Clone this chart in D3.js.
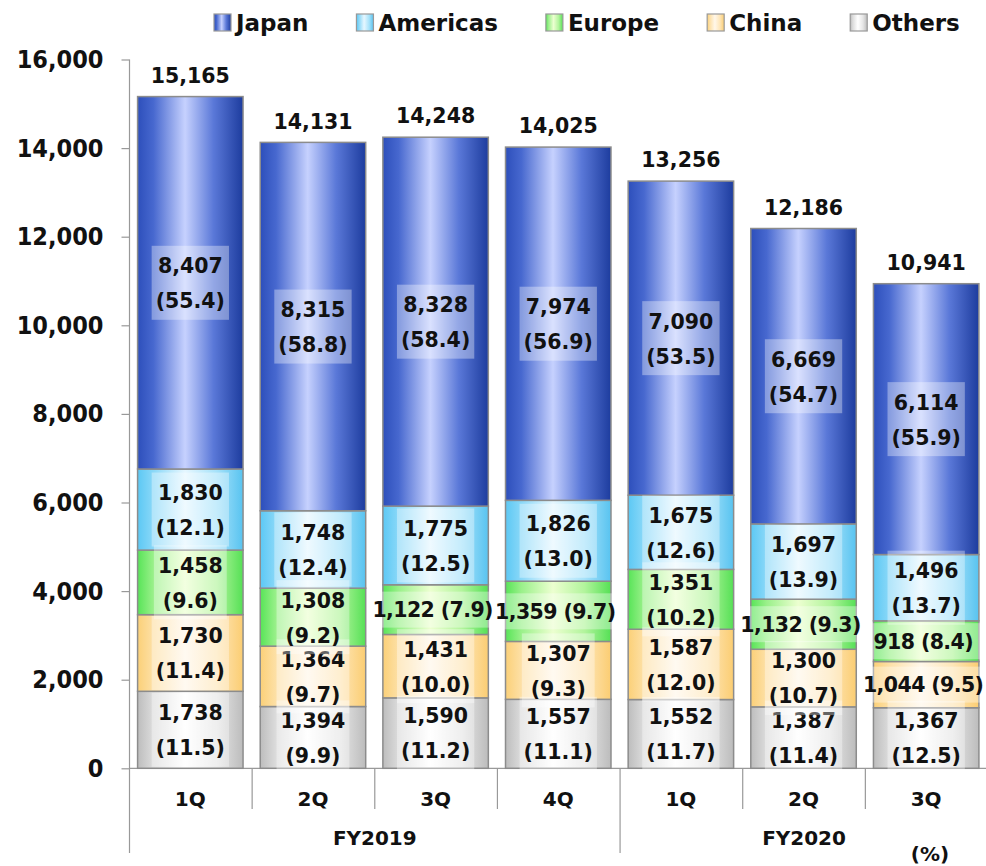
<!DOCTYPE html>
<html>
<head>
<meta charset="utf-8">
<script src="https://cdn.jsdelivr.net/npm/d3@7/dist/d3.min.js"></script>
<style>
  html, body { margin: 0; padding: 0; background: #fff; }
  svg { display: block; }
  text { font-family: "DejaVu Sans", Verdana, sans-serif; font-weight: bold; fill: #111; }
</style>
</head>
<body>
<svg id="chart" width="986" height="866"></svg>
<script>
// ---------- DATA ----------
const categories = ["1Q", "2Q", "3Q", "4Q", "1Q", "2Q", "3Q"];
const fiscalYears = ["FY2019", "FY2020"];
const fiscalYearSpans = [[0, 4], [4, 7]];
const seriesNames = ["Japan", "Americas", "Europe", "China", "Others"];
const japan    = [8407, 8315, 8328, 7974, 7090, 6669, 6114];
const americas = [1830, 1748, 1775, 1826, 1675, 1697, 1496];
const europe   = [1458, 1308, 1122, 1359, 1351, 1132, 918];
const china    = [1730, 1364, 1431, 1307, 1587, 1300, 1044];
const others   = [1738, 1394, 1590, 1557, 1552, 1387, 1367];
const japanPct    = ["55.4", "58.8", "58.4", "56.9", "53.5", "54.7", "55.9"];
const americasPct = ["12.1", "12.4", "12.5", "13.0", "12.6", "13.9", "13.7"];
const europePct   = ["9.6", "9.2", "7.9", "9.7", "10.2", "9.3", "8.4"];
const chinaPct    = ["11.4", "9.7", "10.0", "9.3", "12.0", "10.7", "9.5"];
const othersPct   = ["11.5", "9.9", "11.2", "11.1", "11.7", "11.4", "12.5"];
const totals = [15165, 14131, 14248, 14025, 13256, 12186, 10941];
const yTicks = [0, 2000, 4000, 6000, 8000, 10000, 12000, 14000, 16000];

// ---------- STYLE ----------
const gradStops = {
  Japan:    [[0, "#2d4fbb"], [0.15, "#4768cf"], [0.45, "#c6d1fe"], [0.72, "#5a78d8"], [1, "#1d3c9e"]],
  Americas: [[0, "#5cc8f4"], [0.15, "#8ad8f8"], [0.45, "#e6f7ff"], [0.75, "#a6e2fa"], [1, "#58c3f0"]],
  Europe:   [[0, "#58e458"], [0.15, "#9af08a"], [0.45, "#ecffd0"], [0.75, "#b2f49c"], [1, "#55e055"]],
  China:    [[0, "#fbd078"], [0.15, "#fde0a6"], [0.45, "#fff7ea"], [0.75, "#fee6b8"], [1, "#fbcd72"]],
  Others:   [[0, "#bdbdbd"], [0.15, "#dcdcdc"], [0.45, "#ffffff"], [0.75, "#e6e6e6"], [1, "#bcbcbc"]]
};
const singleLine = new Set(["Europe-2", "Europe-3", "Europe-5", "Europe-6", "China-6"]);

const svg = d3.select("#chart");
const defs = svg.append("defs");
seriesNames.forEach(s => {
  const g = defs.append("linearGradient").attr("id", "g-" + s)
    .attr("x1", "0%").attr("x2", "100%").attr("y1", "0%").attr("y2", "0%");
  gradStops[s].forEach(([o, c]) => g.append("stop").attr("offset", o).attr("stop-color", c));
});

const x = d3.scaleBand().domain(d3.range(categories.length)).range([129, 987.5])
  .paddingInner(0.14).paddingOuter(0.07);
const y = d3.scaleLinear().domain([0, 16000]).range([768.3, 59.5]);

// y axis
const yAxis = d3.axisLeft(y).tickValues(yTicks).tickFormat(d3.format(",")).tickSize(8).tickPadding(18);
const gy = svg.append("g").attr("transform", "translate(129.5,0)").call(yAxis);
gy.select(".domain").remove();
gy.selectAll(".tick line").attr("stroke", "#999").attr("stroke-width", 1.2);
gy.selectAll(".tick text").style("font-family", "'DejaVu Sans Condensed', 'DejaVu Sans', sans-serif")
  .style("font-size", "25px").style("font-weight", "bold").attr("fill", "#111");
svg.append("line").attr("x1", 129.5).attr("x2", 129.5).attr("y1", 59.5).attr("y2", 853)
  .attr("stroke", "#999").attr("stroke-width", 1.2);
svg.append("line").attr("x1", 129.5).attr("x2", 986).attr("y1", y(0)).attr("y2", y(0))
  .attr("stroke", "#999").attr("stroke-width", 1.2);

// stack data
const seriesVals = { Japan: japan, Americas: americas, Europe: europe, China: china, Others: others };
const seriesPct = { Japan: japanPct, Americas: americasPct, Europe: europePct, China: chinaPct, Others: othersPct };
const stackOrder = ["Others", "China", "Europe", "Americas", "Japan"];
const rows = categories.map((c, i) => {
  const r = { i };
  seriesNames.forEach(s => r[s] = seriesVals[s][i]);
  return r;
});
const stacked = d3.stack().keys(stackOrder)(rows);

const bars = svg.append("g");
stacked.forEach(layer => {
  bars.selectAll(null).data(layer).enter().append("rect")
    .attr("x", (d, i) => x(i))
    .attr("width", x.bandwidth())
    .attr("y", d => y(d[1]))
    .attr("height", d => y(d[0]) - y(d[1]))
    .attr("fill", "url(#g-" + layer.key + ")")
    .attr("stroke", "#8c8c8c").attr("stroke-width", 1.5);
});

// segment labels
const labels = svg.append("g");
stacked.forEach(layer => {
  const s = layer.key;
  layer.forEach((d, i) => {
    const cx = x(i) + x.bandwidth() / 2;
    const cy = (y(d[0]) + y(d[1])) / 2;
    const val = d3.format(",")(seriesVals[s][i]);
    const pct = "(" + seriesPct[s][i] + ")";
    const g = labels.append("g");
    const box = g.append("rect").attr("fill", "#fff").attr("fill-opacity", 0.35);
    let texts = [];
    if (singleLine.has(s + "-" + i)) {
      const t = g.append("text").attr("x", cx - 3).attr("y", cy).attr("dy", "0.36em")
        .attr("text-anchor", "middle").style("font-size", "20.5px")
        .style("letter-spacing", "-0.6px").text(val + " " + pct);
      const w = t.node().getComputedTextLength();
      box.attr("x", cx - w / 2 - 4).attr("width", w + 8).attr("y", cy - 18).attr("height", 36);
    } else {
      texts.push(g.append("text").attr("x", cx).attr("y", cy - 17).attr("dy", "0.36em")
        .attr("text-anchor", "middle").style("font-size", "20.5px").text(val));
      texts.push(g.append("text").attr("x", cx).attr("y", cy + 18).attr("dy", "0.36em")
        .attr("text-anchor", "middle").style("font-size", "20.5px").text(pct));
      const w = Math.max(...texts.map(t => t.node().getComputedTextLength()));
      box.attr("x", cx - w / 2 - 4).attr("width", w + 8).attr("y", cy - 37).attr("height", 74);
    }
  });
});

// total labels
svg.append("g").selectAll("text").data(totals).enter().append("text")
  .attr("x", (d, i) => x(i) + x.bandwidth() / 2)
  .attr("y", d => y(d) - 21).attr("dy", "0.36em")
  .attr("text-anchor", "middle").style("font-size", "20.5px")
  .text(d => d3.format(",")(d));

// category axis
const step = x.step();
const x0 = 129.5;
const groupStarts = new Set(fiscalYearSpans.map(s => s[0]));
for (let k = 1; k <= categories.length; k++) {
  const xx = x0 + k * step;
  const isGroup = groupStarts.has(k);
  svg.append("line").attr("x1", xx).attr("x2", xx).attr("y1", y(0)).attr("y2", isGroup ? 853 : 809)
    .attr("stroke", "#999").attr("stroke-width", 1.2);
}
svg.append("g").selectAll("text").data(categories).enter().append("text")
  .attr("x", (d, i) => x(i) + x.bandwidth() / 2).attr("y", 799).attr("dy", "0.36em")
  .attr("text-anchor", "middle").style("font-size", "20px").text(d => d);
svg.append("g").selectAll("text").data(fiscalYears).enter().append("text")
  .attr("x", (d, i) => x0 + (fiscalYearSpans[i][0] + fiscalYearSpans[i][1]) / 2 * step)
  .attr("y", 838).attr("dy", "0.36em")
  .attr("text-anchor", "middle").style("font-size", "20px").text(d => d);
svg.append("text").attr("x", 930).attr("y", 854).attr("dy", "0.36em")
  .attr("text-anchor", "middle").style("font-size", "20px").text("(%)");

// legend
const legend = svg.append("g");
let lx = 214;
seriesNames.forEach(s => {
  legend.append("rect").attr("x", lx).attr("y", 14).attr("width", 17).attr("height", 17)
    .attr("fill", "url(#g-" + s + ")").attr("stroke", "#999").attr("stroke-width", 1.2);
  const t = legend.append("text").attr("x", lx + 22).attr("y", 31)
    .style("font-size", "23px").text(s);
  lx += 22 + t.node().getComputedTextLength() + 48;
});
</script>
</body>
</html>
